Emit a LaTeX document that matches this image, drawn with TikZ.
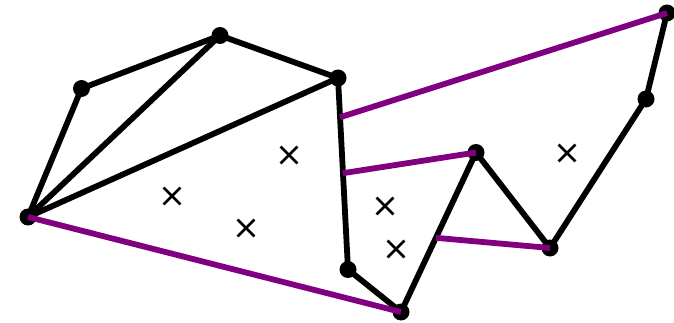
\documentclass[tikz,border=0pt]{standalone}
\usetikzlibrary{calc,shapes.misc}
\definecolor{pedge}{RGB}{128,0,128}
\tikzset{
  vtx/.style={circle,fill=black,inner sep=0pt,minimum size=17pt},
  bedge/.style={line width=5.8pt,black,line join=round},
  pline/.style={line width=5.8pt,pedge},
  xmark/.style={cross out,draw=black,line width=2.8pt,minimum size=14pt,inner sep=0pt}
}
\begin{document}
\begin{tikzpicture}[x=1pt,y=-1pt]
\useasboundingbox (0,0) rectangle (674,323);
\coordinate (A) at (28,217);
\coordinate (B) at (81.5,88.5);
\coordinate (C) at (220,35.5);
\coordinate (D) at (338,78);
\coordinate (E) at (348,269.5);
\coordinate (F) at (401,312);
\coordinate (G) at (476,152.5);
\coordinate (H) at (550,248);
\coordinate (I) at (646,99);
\coordinate (J) at (667,13);
\draw[bedge] (A) -- (B) -- (C) -- (D) -- (E) -- (F) -- (G) -- (H) -- (I) -- (J);
\draw[bedge] (A) -- (C);
\draw[bedge] (A) -- (D);
\foreach \v in {A,B,C,D,E,F,G,H,I,J} \node[vtx] (n\v) at (\v) {};
\coordinate (p1) at ($(D)!0.205!(E)$);
\coordinate (p2) at ($(D)!0.497!(E)$);
\coordinate (p3) at ($(F)!0.465!(G)$);
\draw[pline] (A) -- (F);
\draw[pline] (p1) -- (J);
\draw[pline] (p2) -- (G);
\draw[pline] (p3) -- (H);
\node[xmark] (x1) at (172,196) {};
\node[xmark] (x2) at (246,228) {};
\node[xmark] (x3) at (289,155) {};
\node[xmark] (x4) at (385,206) {};
\node[xmark] (x5) at (396,249) {};
\node[xmark] (x6) at (567,153) {};
\end{tikzpicture}
\end{document}
